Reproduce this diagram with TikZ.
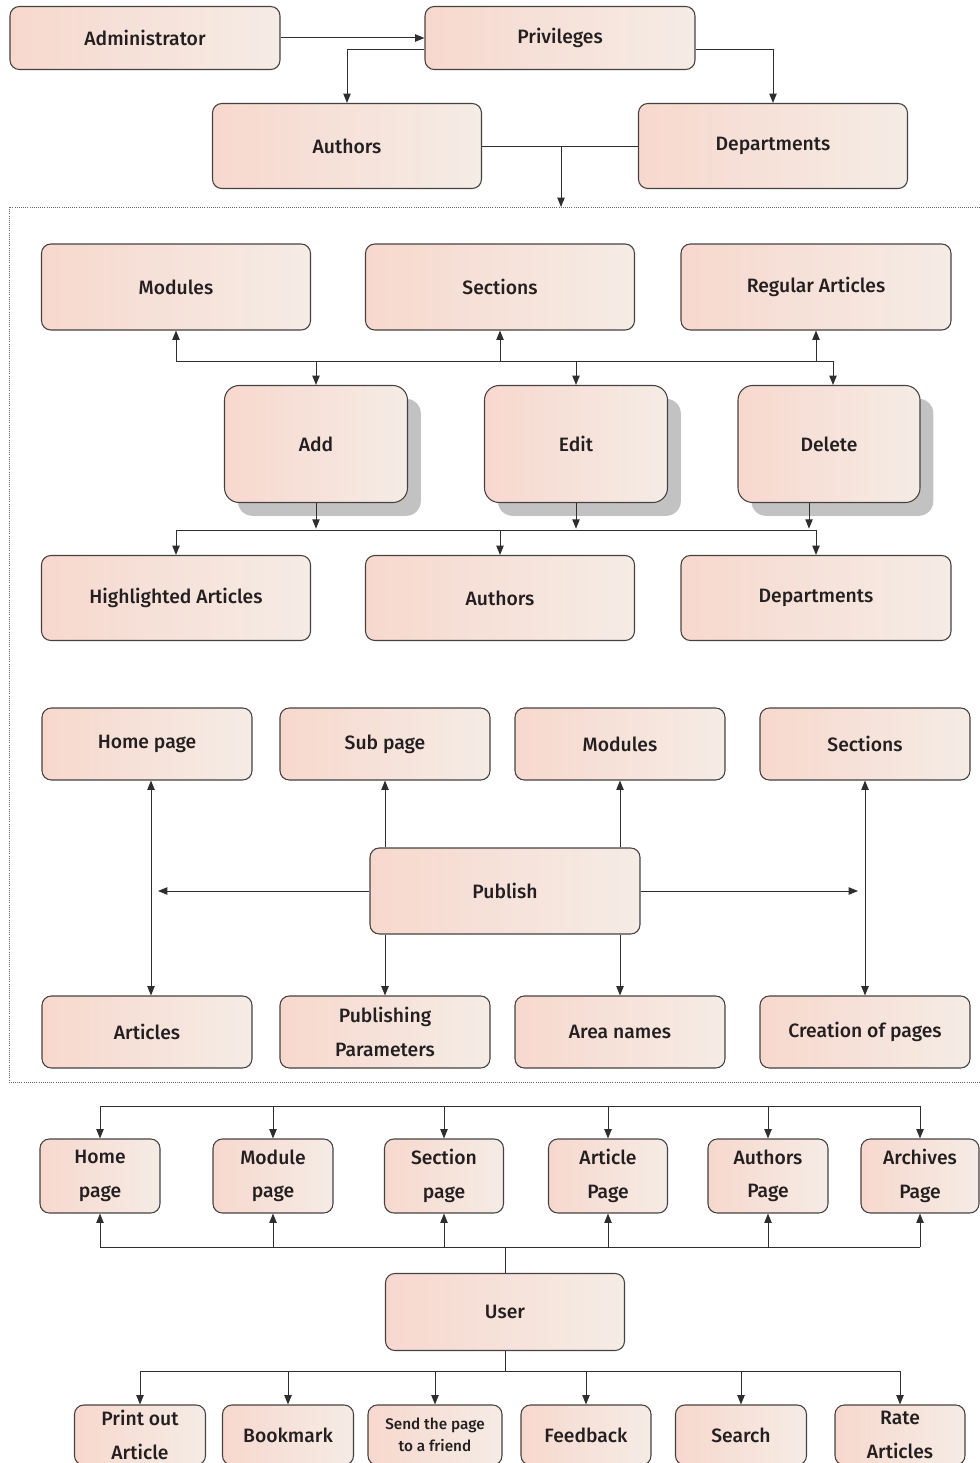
\documentclass[tikz,border=0pt]{standalone}
\usepackage{fontspec}
\setmainfont{Fira Sans}[UprightFont={* Medium}]
\usetikzlibrary{arrows.meta,shadows}
\definecolor{boxleft}{RGB}{247,216,206}
\definecolor{boxright}{RGB}{245,236,229}
\definecolor{boxline}{RGB}{70,66,66}
\definecolor{inkcol}{RGB}{35,31,32}
\tikzset{
  box/.style 2 args={draw=boxline, line width=0.8pt, rounded corners=7pt,
    left color=boxleft, right color=boxright, text=inkcol,
    minimum width=#1*0.75pt, minimum height=#2*0.75pt, inner sep=0pt,
    align=center, font=\fontsize{14.5}{25}\selectfont},
  bigbox/.style 2 args={box={#1}{#2}, rounded corners=11pt,
    drop shadow={shadow xshift=10pt, shadow yshift=-10pt, fill=black!24, opacity=1}},
  link/.style={draw=black!82, line width=0.75pt},
  >={Triangle[length=7pt,width=5.5pt]}
}
\begin{document}
\begin{tikzpicture}[x=0.75pt, y=-0.75pt]
\useasboundingbox (0,0) rectangle (979,1463);
% administrator part
\node[box={270}{63}] (adm) at (145,38) {Administrator};
\node[box={270}{63}] (priv) at (560,38) {Privileges};
\node[box={269}{85}] (auth) at (347,146) {Authors};
\node[box={269}{85}] (dep) at (773,146) {Departments};
\coordinate (frametop) at (561,207);
\draw[link,->] (adm) -- (priv);
\draw[link,->] ([yshift=-9pt]priv.west) -| (auth.north);
\draw[link,->] ([yshift=-9pt]priv.east) -| (dep.north);
\draw[link] (auth) -- (dep);
\draw[link,->] (auth.east -| frametop) -- (frametop);
%
\draw[black!60, densely dotted, line width=0.6pt] (9,207) rectangle (990,1082);
%
\node[box={269}{86}] (mod1) at (176,287) {Modules};
\node[box={269}{86}] (sec1) at (500,287) {Sections};
\node[box={270}{86}] (reg) at (816,287) {Regular Articles};
\node[bigbox={183}{117}] (add) at (316,444) {Add};
\node[bigbox={183}{117}] (edit) at (576,444) {Edit};
\node[bigbox={182}{117}] (del) at (829,444) {Delete};
\node[box={269}{85}] (hl) at (176,598) {Highlighted Articles};
\node[box={269}{85}] (auth2) at (500,598) {Authors};
\node[box={270}{85}] (dep2) at (816,598) {Departments};
\coordinate (busA) at (0,361);
\coordinate (busB) at (0,530);
\draw[link] (mod1.south |- busA) -- ([xshift=3pt]del.north |- busA);
\foreach \n in {mod1,sec1,reg}
  \draw[link,->] (\n.south |- busA) -- (\n.south);
\foreach \n in {add,edit}
  \draw[link,->] (\n.south) -- ([yshift=1pt]\n.south |- busB);
\draw[link,->] ([xshift=-15pt]del.south) -- ([xshift=-15pt,yshift=1pt]del.south |- busB);
\foreach \n in {add,edit}
  \draw[link,->] (\n.north |- busA) -- (\n.north);
\draw[link,->] ([xshift=3pt]del.north |- busA) -- ([xshift=3pt]del.north);
\draw[link] (hl.north |- busB) -- (dep2.north |- busB);
\foreach \n in {hl,auth2,dep2}
  \draw[link,->] (\n.north |- busB) -- (\n.north);
%
\node[box={210}{72}] (home) at (147,744) {Home page};
\node[box={210}{72}] (sub) at (385,744) {Sub page};
\node[box={210}{72}] (mod2) at (620,744) {Modules};
\node[box={210}{72}] (sec2) at (865,744) {Sections};
\node[box={270}{86}] (pub) at (505,891) {Publish};
\node[box={210}{72}] (art) at (147,1032) {Articles};
\node[box={210}{72}] (par) at (385,1032) {Publishing\\Parameters};
\node[box={210}{72}] (area) at (620,1032) {Area names};
\node[box={210}{72}] (crea) at (865,1032) {Creation of pages};
\coordinate (pl) at (158,891);
\coordinate (pr) at (858,891);
\draw[link,<->] ([xshift=3pt]home.south) -- ([xshift=3pt]art.north);
\draw[link,<->] (sec2.south) -- (crea.north);
\draw[link,->] (pub.west) -- (pl);
\draw[link,->] (pub.east) -- (pr);
\draw[link,->] (pub.north -| sub.south) -- (sub.south);
\draw[link,->] (pub.north -| mod2.south) -- (mod2.south);
\draw[link,->] (pub.south -| par.north) -- (par.north);
\draw[link,->] (pub.south -| area.north) -- (area.north);
% user part
\node[box={120}{74}] (p1) at (100,1176) {Home\\page};
\node[box={120}{74}] (p2) at (273,1176) {Module\\page};
\node[box={119}{74}] (p3) at (444,1176) {Section\\page};
\node[box={119}{74}] (p4) at (608,1176) {Article\\Page};
\node[box={120}{74}] (p5) at (768,1176) {Authors\\Page};
\node[box={118}{74}] (p6) at (920,1176) {Archives\\Page};
\node[box={239}{77}] (user) at (505,1312) {User};
\node[box={131}{60}] (u1) at (140,1435) {Print out\\Article};
\node[box={131}{60}] (u2) at (288,1435) {Bookmark};
\node[box={134}{60}, font=\fontsize{11.5}{16.5}\selectfont] (u3) at (435,1435) {Send the page\\to a friend};
\node[box={130}{60}] (u4) at (586,1435) {Feedback};
\node[box={131}{60}] (u5) at (741,1435) {Search};
\node[box={130}{60}] (u6) at (900,1435) {Rate\\Articles};
\coordinate (busC) at (0,1106);
\coordinate (busD) at (0,1247);
\coordinate (busE) at (0,1371);
\draw[link] (p1.north |- busC) -- (p6.north |- busC);
\draw[link] (p1.south |- busD) -- (p6.south |- busD);
\foreach \n in {p1,p2,p3,p4,p5,p6} {
  \draw[link,->] (\n.north |- busC) -- (\n.north);
  \draw[link,->] (\n.south |- busD) -- (\n.south);
}
\draw[link] (user.north) -- (user.north |- busD);
\draw[link] (user.south) -- (user.south |- busE);
\draw[link] (u1.north |- busE) -- (u6.north |- busE);
\foreach \n in {u1,u2,u3,u4,u5,u6}
  \draw[link,->] (\n.north |- busE) -- (\n.north);
\end{tikzpicture}
\end{document}
